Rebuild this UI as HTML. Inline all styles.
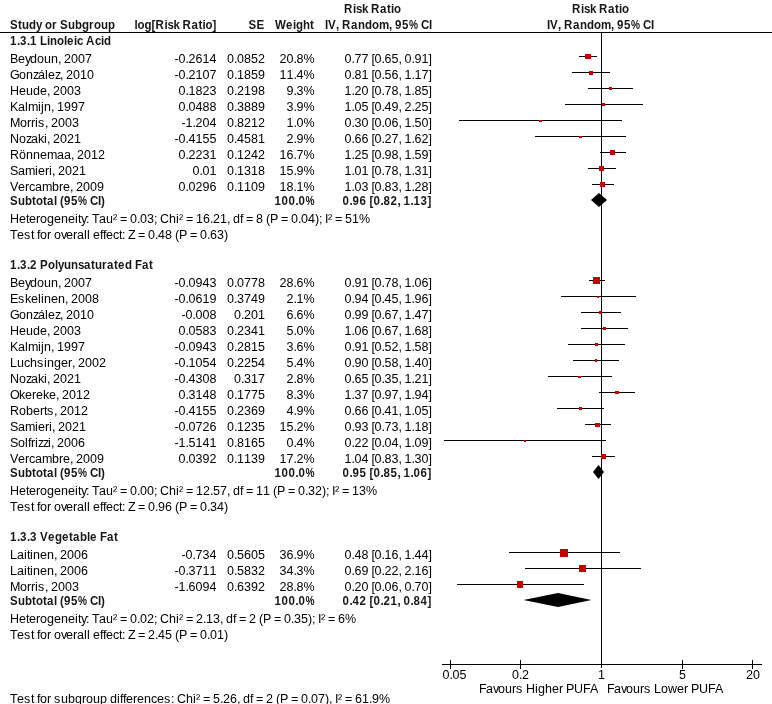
<!DOCTYPE html>
<html><head><meta charset="utf-8"><title>Forest plot</title>
<style>
html,body{margin:0;padding:0;background:#fff}
svg{display:block}
text{font-family:"Liberation Sans",sans-serif;font-size:12.5px;fill:#000;white-space:pre;font-kerning:none}
text.b{font-weight:bold;fill:#161616}
rect{shape-rendering:crispEdges}
</style></head><body>
<svg width="772" height="704" viewBox="0 0 772 704">
<rect x="0" y="0" width="772" height="704" fill="#fff"/>
<text x="10.87 19.57 23.91 31.52 39.13 45.65 48.91 56.52 61.96 65.22 73.91 81.52 89.13 96.74 102.17 109.78 117.39" y="29" class="b" transform="scale(0.92,1)">Study or Subgroup</text>
<text x="146.2 149.46 157.07 164.67 169.02 178.8 182.07 188.59 195.11 198.37 208.15 215.76 220.11 223.37 230.98" y="29" class="b" transform="scale(0.92,1)">log[Risk Ratio]</text>
<text x="270.11 278.8" y="29" class="b" transform="scale(0.92,1)">SE</text>
<text x="298.91 310.87 318.48 321.74 329.35 336.96" y="29" class="b" transform="scale(0.92,1)">Weight</text>
<text x="353.26 356.52 365.22 368.48 371.74 381.52 389.13 396.74 404.35 411.96 422.83 426.09 429.35 436.96 444.57 454.35 457.61 466.3" y="29" class="b" transform="scale(0.92,1)">IV, Random, 95<tspan textLength="9.78" lengthAdjust="spacingAndGlyphs">%</tspan> CI</text>
<text x="373.91 383.7 386.96 393.48 400 403.26 413.04 420.65 425 428.26" y="13" class="b" transform="scale(0.92,1)">Risk Ratio</text>
<text x="621.74 631.52 634.78 641.3 647.83 651.09 660.87 668.48 672.83 676.09" y="13" class="b" transform="scale(0.92,1)">Risk Ratio</text>
<text x="594.57 597.83 606.52 609.78 613.04 622.83 630.43 638.04 645.65 653.26 664.13 667.39 670.65 678.26 685.87 695.65 698.91 707.61" y="29" class="b" transform="scale(0.92,1)">IV, Random, 95<tspan textLength="9.78" lengthAdjust="spacingAndGlyphs">%</tspan> CI</text>
<rect x="0" y="32" width="772" height="1"/>
<rect x="601" y="33" width="1" height="635"/>
<rect x="442" y="664" width="320" height="1"/>
<rect x="450" y="660" width="1" height="9"/>
<rect x="520" y="660" width="1" height="9"/>
<rect x="682" y="660" width="1" height="9"/>
<rect x="752" y="660" width="1" height="9"/>
<text x="442.5 449.5 452.5 459.5" y="679">0.05</text>
<text x="512 519 522" y="679">0.2</text>
<text x="598" y="679">1</text>
<text x="679" y="679">5</text>
<text x="746 753" y="679">20</text>
<text x="479 486 493 498 505 512 516 523 526 535 538 545 552 559 563 566 574 583 590" y="693">Favours Higher PUFA</text>
<text x="607 614 621 626 633 640 644 651 654 661 668 677 684 688 691 699 708 715" y="693">Favours Lower PUFA</text>
<text x="10 17 24 31 34 37 40 47 51 54 61 68 75 82 86 93 100 107 110 117 120 123 126 133 137 144 151 157 164 171 174 177 186 193 196 200 203 210 213 220 223 230 237 240 243 250 253 256 263 266 273 276 280 288 291 298 301 308 311 318 325 329 332 335 338 342 345 352 355 362 369 372 379" y="703">Test for subgroup differences: Chi² = 5.26, df = 2 (P = 0.07), I² = 61.9%</text>
<text x="10.87 18.48 21.74 29.35 32.61 40.22 43.48 51.09 54.35 61.96 69.57 72.83 80.43 83.7 90.22 93.48 103.26 109.78 113.04" y="45" class="b" transform="scale(0.92,1)">1.3.1 Linoleic Acid</text>
<text x="10 18 25 30 37 44 51 58 61 64 71 78 85" y="63">Beydoun, 2007</text>
<text x="174.5 178.5 185.5 188.5 195.5 202.5 209.5" y="63">-0.2614</text>
<text x="227 234 237 244 251 258" y="63">0.0852</text>
<text x="279.5 286.5 293.5 296.5 303.5" y="63">20.8%</text>
<text x="344.5 351.5 354.5 361.5 368.5 371.5 374.5 381.5 384.5 391.5 398.5 401.5 404.5 411.5 414.5 421.5 428.5" y="63">0.77 [0.65, 0.91]</text>
<rect x="579" y="56" width="18" height="1"/>
<text x="10 19 26 33 38 45 48 55 60 63 66 73 80 87" y="79">González, 2010</text>
<text x="174.5 178.5 185.5 188.5 195.5 202.5 209.5" y="79">-0.2107</text>
<text x="227 234 237 244 251 258" y="79">0.1859</text>
<text x="279.5 286.5 293.5 296.5 303.5" y="79">11.4%</text>
<text x="344.5 351.5 354.5 361.5 368.5 371.5 374.5 381.5 384.5 391.5 398.5 401.5 404.5 411.5 414.5 421.5 428.5" y="79">0.81 [0.56, 1.17]</text>
<rect x="572" y="72" width="38" height="1"/>
<text x="10 19 26 33 40 47 50 53 60 67 74" y="95">Heude, 2003</text>
<text x="178.5 185.5 188.5 195.5 202.5 209.5" y="95">0.1823</text>
<text x="227 234 237 244 251 258" y="95">0.2198</text>
<text x="286.5 293.5 296.5 303.5" y="95">9.3%</text>
<text x="344.5 351.5 354.5 361.5 368.5 371.5 374.5 381.5 384.5 391.5 398.5 401.5 404.5 411.5 414.5 421.5 428.5" y="95">1.20 [0.78, 1.85]</text>
<rect x="588" y="88" width="45" height="1"/>
<text x="10 18 25 28 38 41 44 51 54 57 64 71 78" y="111">Kalmijn, 1997</text>
<text x="178.5 185.5 188.5 195.5 202.5 209.5" y="111">0.0488</text>
<text x="227 234 237 244 251 258" y="111">0.3889</text>
<text x="286.5 293.5 296.5 303.5" y="111">3.9%</text>
<text x="344.5 351.5 354.5 361.5 368.5 371.5 374.5 381.5 384.5 391.5 398.5 401.5 404.5 411.5 414.5 421.5 428.5" y="111">1.05 [0.49, 2.25]</text>
<rect x="565" y="104" width="78" height="1"/>
<text x="10 20 27 31 35 38 45 48 51 58 65 72" y="127">Morris, 2003</text>
<text x="181.5 185.5 192.5 195.5 202.5 209.5" y="127">-1.204</text>
<text x="227 234 237 244 251 258" y="127">0.8212</text>
<text x="286.5 293.5 296.5 303.5" y="127">1.0%</text>
<text x="344.5 351.5 354.5 361.5 368.5 371.5 374.5 381.5 384.5 391.5 398.5 401.5 404.5 411.5 414.5 421.5 428.5" y="127">0.30 [0.06, 1.50]</text>
<rect x="459" y="120" width="163" height="1"/>
<text x="10 19 26 31 38 44 47 50 53 60 67 74" y="143">Nozaki, 2021</text>
<text x="174.5 178.5 185.5 188.5 195.5 202.5 209.5" y="143">-0.4155</text>
<text x="227 234 237 244 251 258" y="143">0.4581</text>
<text x="286.5 293.5 296.5 303.5" y="143">2.9%</text>
<text x="344.5 351.5 354.5 361.5 368.5 371.5 374.5 381.5 384.5 391.5 398.5 401.5 404.5 411.5 414.5 421.5 428.5" y="143">0.66 [0.27, 1.62]</text>
<rect x="535" y="136" width="91" height="1"/>
<text x="10 19 26 33 40 47 57 64 71 74 77 84 91 98" y="159">Rönnemaa, 2012</text>
<text x="178.5 185.5 188.5 195.5 202.5 209.5" y="159">0.2231</text>
<text x="227 234 237 244 251 258" y="159">0.1242</text>
<text x="279.5 286.5 293.5 296.5 303.5" y="159">16.7%</text>
<text x="344.5 351.5 354.5 361.5 368.5 371.5 374.5 381.5 384.5 391.5 398.5 401.5 404.5 411.5 414.5 421.5 428.5" y="159">1.25 [0.98, 1.59]</text>
<rect x="600" y="152" width="26" height="1"/>
<text x="10 18 25 35 38 45 49 52 55 58 65 72 79" y="175">Samieri, 2021</text>
<text x="192.5 199.5 202.5 209.5" y="175">0.01</text>
<text x="227 234 237 244 251 258" y="175">0.1318</text>
<text x="279.5 286.5 293.5 296.5 303.5" y="175">15.9%</text>
<text x="344.5 351.5 354.5 361.5 368.5 371.5 374.5 381.5 384.5 391.5 398.5 401.5 404.5 411.5 414.5 421.5 428.5" y="175">1.01 [0.78, 1.31]</text>
<rect x="588" y="168" width="28" height="1"/>
<text x="10 18 25 29 35 42 52 59 63 70 73 76 83 90 97" y="191">Vercambre, 2009</text>
<text x="178.5 185.5 188.5 195.5 202.5 209.5" y="191">0.0296</text>
<text x="227 234 237 244 251 258" y="191">0.1109</text>
<text x="279.5 286.5 293.5 296.5 303.5" y="191">18.1%</text>
<text x="344.5 351.5 354.5 361.5 368.5 371.5 374.5 381.5 384.5 391.5 398.5 401.5 404.5 411.5 414.5 421.5 428.5" y="191">1.03 [0.83, 1.28]</text>
<rect x="592" y="184" width="22" height="1"/>
<text x="10.87 19.57 27.17 34.78 39.13 46.74 51.09 58.7 61.96 65.22 69.57 77.17 84.78 94.57 97.83 106.52 109.78" y="205" class="b" transform="scale(0.92,1)">Subtotal (95<tspan textLength="9.78" lengthAdjust="spacingAndGlyphs">%</tspan> CI)</text>
<text x="298.37 305.98 313.59 321.2 324.46 332.07" y="205" class="b" transform="scale(0.92,1)">100.0<tspan textLength="9.78" lengthAdjust="spacingAndGlyphs">%</tspan></text>
<text x="372.28 379.89 383.15 390.76 398.37 401.63 405.98 413.59 416.85 424.46 432.07 435.33 438.59 446.2 449.46 457.07 464.67" y="205" class="b" transform="scale(0.92,1)">0.96 [0.82, 1.13]</text>
<text x="10 19 26 29 36 40 47 54 61 68 75 78 81 86 89 92 99 106 113 117 120 127 130 137 140 147 154 157 160 169 176 179 183 186 193 196 203 210 213 220 227 230 233 240 243 246 253 256 263 266 270 278 281 288 291 298 301 308 315 319 322 325 328 332 335 342 345 352 359" y="223">Heterogeneity: Tau² = 0.03; Chi² = 16.21, df = 8 (P = 0.04); I² = 51%</text>
<text x="10 17 24 31 34 37 40 47 51 54 61 66 73 77 84 87 90 93 100 103 106 113 119 122 125 128 135 138 145 148 155 158 165 172 175 179 187 190 197 200 207 210 217 224" y="239">Test for overall effect: Z = 0.48 (P = 0.63)</text>
<text x="10.87 18.48 21.74 29.35 32.61 40.22 43.48 52.17 59.78 63.04 69.57 77.17 84.78 91.3 98.91 103.26 110.87 116.3 123.91 128.26 135.87 143.48 146.74 154.35 161.96" y="269" class="b" transform="scale(0.92,1)">1.3.2 Polyunsaturated Fat</text>
<text x="10 18 25 30 37 44 51 58 61 64 71 78 85" y="287">Beydoun, 2007</text>
<text x="174.5 178.5 185.5 188.5 195.5 202.5 209.5" y="287">-0.0943</text>
<text x="227 234 237 244 251 258" y="287">0.0778</text>
<text x="279.5 286.5 293.5 296.5 303.5" y="287">28.6%</text>
<text x="344.5 351.5 354.5 361.5 368.5 371.5 374.5 381.5 384.5 391.5 398.5 401.5 404.5 411.5 414.5 421.5 428.5" y="287">0.91 [0.78, 1.06]</text>
<rect x="589" y="280" width="16" height="1"/>
<text x="10 18 25 31 38 41 44 51 58 65 68 71 78 85 92" y="303">Eskelinen, 2008</text>
<text x="174.5 178.5 185.5 188.5 195.5 202.5 209.5" y="303">-0.0619</text>
<text x="227 234 237 244 251 258" y="303">0.3749</text>
<text x="286.5 293.5 296.5 303.5" y="303">2.1%</text>
<text x="344.5 351.5 354.5 361.5 368.5 371.5 374.5 381.5 384.5 391.5 398.5 401.5 404.5 411.5 414.5 421.5 428.5" y="303">0.94 [0.45, 1.96]</text>
<rect x="561" y="296" width="75" height="1"/>
<text x="10 19 26 33 38 45 48 55 60 63 66 73 80 87" y="319">González, 2010</text>
<text x="181.5 185.5 192.5 195.5 202.5 209.5" y="319">-0.008</text>
<text x="234 241 244 251 258" y="319">0.201</text>
<text x="286.5 293.5 296.5 303.5" y="319">6.6%</text>
<text x="344.5 351.5 354.5 361.5 368.5 371.5 374.5 381.5 384.5 391.5 398.5 401.5 404.5 411.5 414.5 421.5 428.5" y="319">0.99 [0.67, 1.47]</text>
<rect x="581" y="312" width="40" height="1"/>
<text x="10 19 26 33 40 47 50 53 60 67 74" y="335">Heude, 2003</text>
<text x="178.5 185.5 188.5 195.5 202.5 209.5" y="335">0.0583</text>
<text x="227 234 237 244 251 258" y="335">0.2341</text>
<text x="286.5 293.5 296.5 303.5" y="335">5.0%</text>
<text x="344.5 351.5 354.5 361.5 368.5 371.5 374.5 381.5 384.5 391.5 398.5 401.5 404.5 411.5 414.5 421.5 428.5" y="335">1.06 [0.67, 1.68]</text>
<rect x="581" y="328" width="47" height="1"/>
<text x="10 18 25 28 38 41 44 51 54 57 64 71 78" y="351">Kalmijn, 1997</text>
<text x="174.5 178.5 185.5 188.5 195.5 202.5 209.5" y="351">-0.0943</text>
<text x="227 234 237 244 251 258" y="351">0.2815</text>
<text x="286.5 293.5 296.5 303.5" y="351">3.6%</text>
<text x="344.5 351.5 354.5 361.5 368.5 371.5 374.5 381.5 384.5 391.5 398.5 401.5 404.5 411.5 414.5 421.5 428.5" y="351">0.91 [0.52, 1.58]</text>
<rect x="568" y="344" width="57" height="1"/>
<text x="10 17 24 30 37 44 47 54 61 68 72 75 78 85 92 99" y="367">Luchsinger, 2002</text>
<text x="174.5 178.5 185.5 188.5 195.5 202.5 209.5" y="367">-0.1054</text>
<text x="227 234 237 244 251 258" y="367">0.2254</text>
<text x="286.5 293.5 296.5 303.5" y="367">5.4%</text>
<text x="344.5 351.5 354.5 361.5 368.5 371.5 374.5 381.5 384.5 391.5 398.5 401.5 404.5 411.5 414.5 421.5 428.5" y="367">0.90 [0.58, 1.40]</text>
<rect x="573" y="360" width="46" height="1"/>
<text x="10 19 26 31 38 44 47 50 53 60 67 74" y="383">Nozaki, 2021</text>
<text x="174.5 178.5 185.5 188.5 195.5 202.5 209.5" y="383">-0.4308</text>
<text x="234 241 244 251 258" y="383">0.317</text>
<text x="286.5 293.5 296.5 303.5" y="383">2.8%</text>
<text x="344.5 351.5 354.5 361.5 368.5 371.5 374.5 381.5 384.5 391.5 398.5 401.5 404.5 411.5 414.5 421.5 428.5" y="383">0.65 [0.35, 1.21]</text>
<rect x="548" y="376" width="64" height="1"/>
<text x="10 19 25 32 36 43 49 56 59 62 69 76 83" y="399">Okereke, 2012</text>
<text x="178.5 185.5 188.5 195.5 202.5 209.5" y="399">0.3148</text>
<text x="227 234 237 244 251 258" y="399">0.1775</text>
<text x="286.5 293.5 296.5 303.5" y="399">8.3%</text>
<text x="344.5 351.5 354.5 361.5 368.5 371.5 374.5 381.5 384.5 391.5 398.5 401.5 404.5 411.5 414.5 421.5 428.5" y="399">1.37 [0.97, 1.94]</text>
<rect x="599" y="392" width="36" height="1"/>
<text x="10 19 26 33 40 44 47 54 57 60 67 74 81" y="415">Roberts, 2012</text>
<text x="174.5 178.5 185.5 188.5 195.5 202.5 209.5" y="415">-0.4155</text>
<text x="227 234 237 244 251 258" y="415">0.2369</text>
<text x="286.5 293.5 296.5 303.5" y="415">4.9%</text>
<text x="344.5 351.5 354.5 361.5 368.5 371.5 374.5 381.5 384.5 391.5 398.5 401.5 404.5 411.5 414.5 421.5 428.5" y="415">0.66 [0.41, 1.05]</text>
<rect x="557" y="408" width="47" height="1"/>
<text x="10 18 25 35 38 45 49 52 55 58 65 72 79" y="431">Samieri, 2021</text>
<text x="174.5 178.5 185.5 188.5 195.5 202.5 209.5" y="431">-0.0726</text>
<text x="227 234 237 244 251 258" y="431">0.1235</text>
<text x="279.5 286.5 293.5 296.5 303.5" y="431">15.2%</text>
<text x="344.5 351.5 354.5 361.5 368.5 371.5 374.5 381.5 384.5 391.5 398.5 401.5 404.5 411.5 414.5 421.5 428.5" y="431">0.93 [0.73, 1.18]</text>
<rect x="585" y="424" width="26" height="1"/>
<text x="10 18 25 28 31 35 38 43 48 51 54 57 64 71 78" y="447">Solfrizzi, 2006</text>
<text x="174.5 178.5 185.5 188.5 195.5 202.5 209.5" y="447">-1.5141</text>
<text x="227 234 237 244 251 258" y="447">0.8165</text>
<text x="286.5 293.5 296.5 303.5" y="447">0.4%</text>
<text x="344.5 351.5 354.5 361.5 368.5 371.5 374.5 381.5 384.5 391.5 398.5 401.5 404.5 411.5 414.5 421.5 428.5" y="447">0.22 [0.04, 1.09]</text>
<rect x="444" y="440" width="162" height="1"/>
<text x="10 18 25 29 35 42 52 59 63 70 73 76 83 90 97" y="463">Vercambre, 2009</text>
<text x="178.5 185.5 188.5 195.5 202.5 209.5" y="463">0.0392</text>
<text x="227 234 237 244 251 258" y="463">0.1139</text>
<text x="279.5 286.5 293.5 296.5 303.5" y="463">17.2%</text>
<text x="344.5 351.5 354.5 361.5 368.5 371.5 374.5 381.5 384.5 391.5 398.5 401.5 404.5 411.5 414.5 421.5 428.5" y="463">1.04 [0.83, 1.30]</text>
<rect x="592" y="456" width="23" height="1"/>
<text x="10.87 19.57 27.17 34.78 39.13 46.74 51.09 58.7 61.96 65.22 69.57 77.17 84.78 94.57 97.83 106.52 109.78" y="477" class="b" transform="scale(0.92,1)">Subtotal (95<tspan textLength="9.78" lengthAdjust="spacingAndGlyphs">%</tspan> CI)</text>
<text x="298.37 305.98 313.59 321.2 324.46 332.07" y="477" class="b" transform="scale(0.92,1)">100.0<tspan textLength="9.78" lengthAdjust="spacingAndGlyphs">%</tspan></text>
<text x="372.28 379.89 383.15 390.76 398.37 401.63 405.98 413.59 416.85 424.46 432.07 435.33 438.59 446.2 449.46 457.07 464.67" y="477" class="b" transform="scale(0.92,1)">0.95 [0.85, 1.06]</text>
<text x="10 19 26 29 36 40 47 54 61 68 75 78 81 86 89 92 99 106 113 117 120 127 130 137 140 147 154 157 160 169 176 179 183 186 193 196 203 210 213 220 227 230 233 240 243 246 253 256 263 270 273 277 285 288 295 298 305 308 315 322 326 329 332 335 339 342 349 352 359 366" y="495">Heterogeneity: Tau² = 0.00; Chi² = 12.57, df = 11 (P = 0.32); I² = 13%</text>
<text x="10 17 24 31 34 37 40 47 51 54 61 66 73 77 84 87 90 93 100 103 106 113 119 122 125 128 135 138 145 148 155 158 165 172 175 179 187 190 197 200 207 210 217 224" y="511">Test for overall effect: Z = 0.96 (P = 0.34)</text>
<text x="10.87 18.48 21.74 29.35 32.61 40.22 43.48 52.17 59.78 67.39 75 79.35 86.96 94.57 97.83 105.43 108.7 116.3 123.91" y="541" class="b" transform="scale(0.92,1)">1.3.3 Vegetable Fat</text>
<text x="10 17 24 27 30 33 40 47 54 57 60 67 74 81" y="559">Laitinen, 2006</text>
<text x="181.5 185.5 192.5 195.5 202.5 209.5" y="559">-0.734</text>
<text x="227 234 237 244 251 258" y="559">0.5605</text>
<text x="279.5 286.5 293.5 296.5 303.5" y="559">36.9%</text>
<text x="344.5 351.5 354.5 361.5 368.5 371.5 374.5 381.5 384.5 391.5 398.5 401.5 404.5 411.5 414.5 421.5 428.5" y="559">0.48 [0.16, 1.44]</text>
<rect x="509" y="552" width="111" height="1"/>
<text x="10 17 24 27 30 33 40 47 54 57 60 67 74 81" y="575">Laitinen, 2006</text>
<text x="174.5 178.5 185.5 188.5 195.5 202.5 209.5" y="575">-0.3711</text>
<text x="227 234 237 244 251 258" y="575">0.5832</text>
<text x="279.5 286.5 293.5 296.5 303.5" y="575">34.3%</text>
<text x="344.5 351.5 354.5 361.5 368.5 371.5 374.5 381.5 384.5 391.5 398.5 401.5 404.5 411.5 414.5 421.5 428.5" y="575">0.69 [0.22, 2.16]</text>
<rect x="525" y="568" width="116" height="1"/>
<text x="10 20 27 31 35 38 45 48 51 58 65 72" y="591">Morris, 2003</text>
<text x="174.5 178.5 185.5 188.5 195.5 202.5 209.5" y="591">-1.6094</text>
<text x="227 234 237 244 251 258" y="591">0.6392</text>
<text x="279.5 286.5 293.5 296.5 303.5" y="591">28.8%</text>
<text x="344.5 351.5 354.5 361.5 368.5 371.5 374.5 381.5 384.5 391.5 398.5 401.5 404.5 411.5 414.5 421.5 428.5" y="591">0.20 [0.06, 0.70]</text>
<rect x="457" y="584" width="127" height="1"/>
<text x="10.87 19.57 27.17 34.78 39.13 46.74 51.09 58.7 61.96 65.22 69.57 77.17 84.78 94.57 97.83 106.52 109.78" y="605" class="b" transform="scale(0.92,1)">Subtotal (95<tspan textLength="9.78" lengthAdjust="spacingAndGlyphs">%</tspan> CI)</text>
<text x="298.37 305.98 313.59 321.2 324.46 332.07" y="605" class="b" transform="scale(0.92,1)">100.0<tspan textLength="9.78" lengthAdjust="spacingAndGlyphs">%</tspan></text>
<text x="372.28 379.89 383.15 390.76 398.37 401.63 405.98 413.59 416.85 424.46 432.07 435.33 438.59 446.2 449.46 457.07 464.67" y="605" class="b" transform="scale(0.92,1)">0.42 [0.21, 0.84]</text>
<text x="10 19 26 29 36 40 47 54 61 68 75 78 81 86 89 92 99 106 113 117 120 127 130 137 140 147 154 157 160 169 176 179 183 186 193 196 203 206 213 220 223 226 233 236 239 246 249 256 259 263 271 274 281 284 291 294 301 308 312 315 318 321 325 328 335 338 345" y="623">Heterogeneity: Tau² = 0.02; Chi² = 2.13, df = 2 (P = 0.35); I² = 6%</text>
<text x="10 17 24 31 34 37 40 47 51 54 61 66 73 77 84 87 90 93 100 103 106 113 119 122 125 128 135 138 145 148 155 158 165 172 175 179 187 190 197 200 207 210 217 224" y="639">Test for overall effect: Z = 2.45 (P = 0.01)</text>
<rect x="585" y="54" width="6" height="5" fill="#c40000"/>
<rect x="589" y="71" width="4" height="4" fill="#c40000"/>
<rect x="609" y="87" width="3" height="3" fill="#c40000"/>
<rect x="602" y="103" width="3" height="3" fill="#c40000"/>
<rect x="539" y="120" width="3" height="2" fill="#c40000"/>
<rect x="579" y="136" width="3" height="2" fill="#c40000"/>
<rect x="610" y="150" width="5" height="5" fill="#c40000"/>
<rect x="599" y="166" width="5" height="5" fill="#c40000"/>
<rect x="600" y="182" width="5" height="5" fill="#c40000"/>
<polygon points="591,200 599,193 607,200 599,207" fill="#000"/>
<rect x="593" y="277" width="7" height="7" fill="#c40000"/>
<rect x="597" y="296" width="2" height="2" fill="#c40000"/>
<rect x="599" y="311" width="3" height="3" fill="#c40000"/>
<rect x="603" y="327" width="3" height="3" fill="#c40000"/>
<rect x="595" y="343" width="3" height="3" fill="#c40000"/>
<rect x="595" y="359" width="2" height="3" fill="#c40000"/>
<rect x="578" y="376" width="3" height="2" fill="#c40000"/>
<rect x="615" y="391" width="4" height="3" fill="#c40000"/>
<rect x="579" y="407" width="3" height="3" fill="#c40000"/>
<rect x="595" y="423" width="5" height="4" fill="#c40000"/>
<rect x="524" y="440" width="2" height="2" fill="#c40000"/>
<rect x="601" y="454" width="5" height="5" fill="#c40000"/>
<polygon points="593,472 598.5,465 604,472 598.5,479" fill="#000"/>
<rect x="560" y="549" width="8" height="8" fill="#c40000"/>
<rect x="579" y="565" width="7" height="7" fill="#c40000"/>
<rect x="517" y="581" width="6" height="7" fill="#c40000"/>
<polygon points="523.5,600 558,593 591.5,600 558,607" fill="#000"/>
</svg>
</body></html>
